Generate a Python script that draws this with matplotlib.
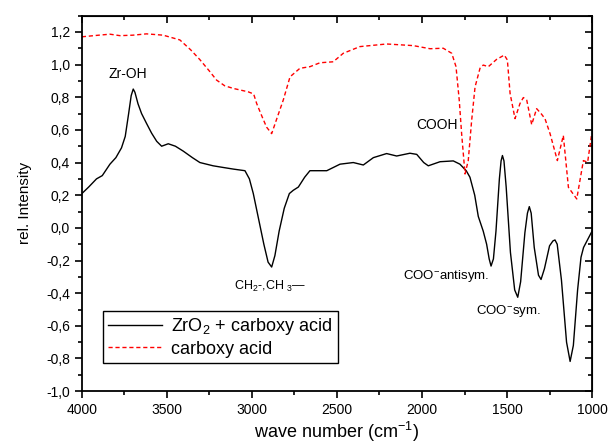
import matplotlib
matplotlib.use('Agg')
import matplotlib.pyplot as plt
from matplotlib.ticker import MultipleLocator, FuncFormatter

plt.rcParams['font.family'] = ['Liberation Sans', 'DejaVu Sans']
plt.rcParams['mathtext.fontset'] = 'custom'
plt.rcParams['mathtext.rm'] = 'Liberation Sans'
plt.rcParams['mathtext.it'] = 'Liberation Sans'

# ZrO2 + carboxy acid (black)
wn_zro2 = [4000, 3960, 3914, 3880, 3835, 3800, 3767, 3745, 3725, 3710, 3698, 3688, 3670, 3649,
           3620, 3590, 3560, 3531, 3492, 3450, 3404, 3350, 3306, 3228, 3170, 3110,
           3041, 3015, 2992, 2960, 2930, 2905, 2884, 2865, 2840, 2810, 2780, 2757, 2727,
           2690, 2659, 2560, 2482, 2404, 2345, 2286, 2208, 2149, 2071, 2031, 1990,
           1963, 1894, 1816, 1777, 1740, 1718, 1690, 1669, 1640, 1620, 1605, 1594, 1580, 1565,
           1545, 1535, 1527, 1518, 1505, 1480, 1455, 1437, 1420, 1395, 1380, 1369, 1358, 1340, 1315, 1300,
           1280, 1250, 1230, 1218, 1205, 1180, 1150, 1129, 1110, 1085, 1065, 1050, 1030, 1000]
int_zro2 = [0.21, 0.25, 0.30, 0.32, 0.39, 0.43, 0.49, 0.56, 0.70, 0.81, 0.85, 0.83, 0.76, 0.70,
            0.64, 0.58, 0.53, 0.50, 0.515, 0.50, 0.47, 0.43, 0.40, 0.38, 0.37, 0.36,
            0.35, 0.30, 0.21, 0.05, -0.10, -0.21, -0.24, -0.17, -0.02, 0.12, 0.21, 0.23, 0.25,
            0.31, 0.35, 0.35, 0.39, 0.40, 0.385, 0.43, 0.455, 0.44, 0.457, 0.45, 0.40,
            0.38, 0.405, 0.41, 0.39, 0.35, 0.31, 0.20, 0.07, -0.02, -0.10, -0.19, -0.234, -0.19, -0.02,
            0.30, 0.41, 0.443, 0.41, 0.25, -0.15, -0.38, -0.425, -0.33, -0.03, 0.09, 0.13, 0.09, -0.12, -0.29, -0.316,
            -0.25, -0.11, -0.08, -0.074, -0.10, -0.32, -0.70, -0.818, -0.72, -0.38, -0.18, -0.12, -0.08, -0.02]

# carboxy acid (red dashed)
wn_acid = [4000, 3900, 3835, 3776, 3700, 3620, 3522, 3424, 3360, 3306, 3250, 3208,
           3160, 3110, 3022, 2990, 2972, 2940, 2914, 2884, 2850, 2816, 2776, 2718,
           2659, 2600, 2522, 2463, 2365, 2208, 2051, 1953, 1875, 1825, 1800, 1781,
           1767, 1747, 1728, 1708, 1688, 1659, 1640, 1610, 1561, 1516, 1498, 1482,
           1453, 1424, 1404, 1384, 1355, 1326, 1300, 1277, 1247, 1204, 1169, 1139,
           1090, 1051, 1026, 1002]
int_acid = [1.17, 1.18, 1.186, 1.177, 1.18, 1.188, 1.18, 1.151, 1.09, 1.03, 0.96, 0.905,
            0.87, 0.854, 0.833, 0.82, 0.761, 0.68, 0.617, 0.577, 0.68, 0.782, 0.925, 0.977,
            0.987, 1.011, 1.017, 1.069, 1.11, 1.126, 1.116, 1.097, 1.10, 1.069, 0.987, 0.782,
            0.577, 0.33, 0.412, 0.658, 0.863, 0.977, 0.997, 0.987, 1.032, 1.058, 1.028, 0.823,
            0.669, 0.761, 0.798, 0.782, 0.632, 0.730, 0.70, 0.669, 0.577, 0.412, 0.566, 0.248,
            0.177, 0.412, 0.402, 0.577]

fig = plt.figure(figsize=(6.11, 4.45), dpi=100)
ax = fig.add_axes([0.134, 0.121, 0.835, 0.844])

ax.plot(wn_zro2, int_zro2, color='black', lw=1.0, label='ZrO$_2$ + carboxy acid')
ax.plot(wn_acid, int_acid, color='red', lw=1.0, ls=(0, (3, 2)), label='carboxy acid')

ax.set_xlim(4000, 1000)
ax.set_ylim(-1.0, 1.3)
ax.xaxis.set_major_locator(MultipleLocator(500))
ax.xaxis.set_minor_locator(MultipleLocator(250))
ax.yaxis.set_major_locator(MultipleLocator(0.2))
ax.yaxis.set_minor_locator(MultipleLocator(0.1))
ax.yaxis.set_major_formatter(FuncFormatter(lambda v, p: ('%.1f' % v).replace('.', ',')))

for s in ax.spines.values():
    s.set_linewidth(1.3)
ax.tick_params(which='both', direction='out', top=False, right=False, labelsize=10, width=1.2)
ax.tick_params(which='major', length=5)
ax.tick_params(which='minor', length=3)
# inward ticks on the top and right side
ax2 = ax.secondary_xaxis('top')
ax2.xaxis.set_major_locator(MultipleLocator(500))
ax2.xaxis.set_minor_locator(MultipleLocator(250))
ax2.tick_params(which='both', direction='in', labeltop=False, width=1.2)
ax2.tick_params(which='major', length=5)
ax2.tick_params(which='minor', length=3)
ay2 = ax.secondary_yaxis('right')
ay2.yaxis.set_major_locator(MultipleLocator(0.2))
ay2.yaxis.set_minor_locator(MultipleLocator(0.1))
ay2.tick_params(which='both', direction='in', labelright=False, width=1.2)
ay2.tick_params(which='major', length=5)
ay2.tick_params(which='minor', length=3)

ax.set_xlabel('wave number (cm$^{-1}$)', fontsize=13, labelpad=2)
ax.set_ylabel('rel. Intensity', fontsize=11, labelpad=10)

ax.text(3730, 0.94, 'Zr-OH', fontsize=10, ha='center', va='center')
ax.text(2890, -0.36, 'CH$_2$-,CH $_3$\u2014', fontsize=9, ha='center', va='center')
ax.text(1914, 0.632, 'COOH', fontsize=10, ha='center', va='center')
ax.text(2110, -0.295, 'COO$^{-}$antisym.', fontsize=9.5, ha='left', va='center')
ax.text(1684, -0.507, 'COO$^{-}$sym.', fontsize=9.5, ha='left', va='center')

leg = ax.legend(loc='lower left', bbox_to_anchor=(0.041, 0.075), borderaxespad=0,
                fontsize=13, fancybox=False, framealpha=1, edgecolor='black',
                handlelength=3, handletextpad=0.5, borderpad=0.3, labelspacing=0.2)
leg.get_frame().set_linewidth(1.0)

fig.savefig('out.png', dpi=100)
